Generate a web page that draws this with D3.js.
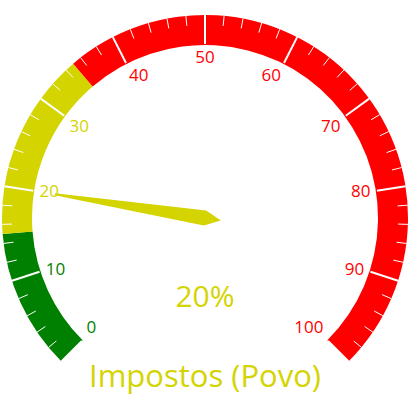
<!DOCTYPE html>
<html>
<head>
<meta charset="utf-8">
<script src="https://cdn.jsdelivr.net/npm/d3@7"></script>
<style>
html,body{margin:0;padding:0;background:#fff;}
svg{display:block;}
text{font-family:"Open Sans","Noto Sans",sans-serif;}
</style>
</head>
<body>
<svg id="chart" width="410" height="410"></svg>
<script>
// Data
const title = "Impostos (Povo)";
const value = 20;
const valueSuffix = "%";
const bandFrom = [0, 15, 35];
const bandTo = [15, 35, 100];
const bandColors = ["#008000", "#d4d400", "#ff0000"];
const majorTicks = [0, 10, 20, 30, 40, 50, 60, 70, 80, 90, 100];
const minorTicks = d3.range(0, 101, 2).filter(v => v % 10 !== 0);
const titleColor = "#d4d400";

// Layout
const cx = 205, cy = 218;
const rOuter = 203, rInner = 173;
const svg = d3.select("#chart");

const angle = d3.scaleLinear().domain([0, 100]).range([-135, 135]);
const rad = v => angle(v) * Math.PI / 180;
const colorFor = v => {
  for (let i = 0; i < bandFrom.length; i++) {
    if (v >= bandFrom[i] && v < bandTo[i]) return bandColors[i];
  }
  return bandColors[bandColors.length - 1];
};

const g = svg.append("g").attr("transform", `translate(${cx},${cy})`);

// Bands
const arc = d3.arc().innerRadius(rInner).outerRadius(rOuter);
g.selectAll("path.band")
  .data(bandFrom.map((f, i) => ({f, t: bandTo[i], c: bandColors[i]})))
  .join("path")
  .attr("class", "band")
  .attr("d", d => arc({startAngle: rad(d.f), endAngle: rad(d.t)}))
  .attr("fill", d => d.c);

// Ticks
function tickLine(v, len) {
  const a = rad(v);
  const s = Math.sin(a), c = -Math.cos(a);
  return {x1: rOuter * s, y1: rOuter * c, x2: (rOuter - len) * s, y2: (rOuter - len) * c};
}
g.selectAll("line.minor").data(minorTicks).join("line")
  .attr("class", "minor")
  .each(function(v){ const p = tickLine(v, 10); d3.select(this).attr("x1", p.x1).attr("y1", p.y1).attr("x2", p.x2).attr("y2", p.y2); })
  .attr("stroke", "#fff").attr("stroke-width", 1);
g.selectAll("line.major").data(majorTicks).join("line")
  .attr("class", "major")
  .each(function(v){ const p = tickLine(v, 29); d3.select(this).attr("x1", p.x1).attr("y1", p.y1).attr("x2", p.x2).attr("y2", p.y2); })
  .attr("stroke", "#fff").attr("stroke-width", 2);

// Labels (auto-aligned toward the inside of the dial)
const rLabel = 167.5;
const fs = 17, cap = 12.3;
g.selectAll("text.lbl").data(majorTicks).join("text")
  .attr("class", "lbl")
  .attr("x", v => rLabel * Math.sin(rad(v)))
  .attr("y", v => {
    const deg = Math.abs(angle(v));
    const ay = -rLabel * Math.cos(rad(v));
    if (deg < 60) return ay + cap;
    if (deg < 120) return ay + cap / 2 - 1;
    return ay - 3.5;
  })
  .attr("text-anchor", v => {
    const d = angle(v);
    if (d < -15) return "start";
    if (d > 15) return "end";
    return "middle";
  })
  .attr("font-size", fs)
  .attr("fill", v => colorFor(v))
  .text(v => v);

// Needle
const a = rad(value);
const ux = Math.sin(a), uy = -Math.cos(a);
const px = -uy, py = ux;
const needleLen = 152, rear = 16, baseW = 15, topW = 2;
const pts = [
  [-rear * ux, -rear * uy],
  [baseW / 2 * px, baseW / 2 * py],
  [needleLen * ux + topW / 2 * px, needleLen * uy + topW / 2 * py],
  [needleLen * ux - topW / 2 * px, needleLen * uy - topW / 2 * py],
  [-baseW / 2 * px, -baseW / 2 * py]
];
g.append("path")
  .attr("d", d3.line()(pts) + "Z")
  .attr("fill", colorFor(value));

// Value text
svg.append("text")
  .attr("x", cx).attr("y", 307)
  .attr("text-anchor", "middle")
  .attr("font-size", 30)
  .attr("fill", colorFor(value))
  .text(value + valueSuffix);

// Title
svg.append("text")
  .attr("x", cx).attr("y", 387)
  .attr("text-anchor", "middle")
  .attr("font-size", 31)
  .attr("fill", titleColor)
  .text(title);
</script>
</body>
</html>
